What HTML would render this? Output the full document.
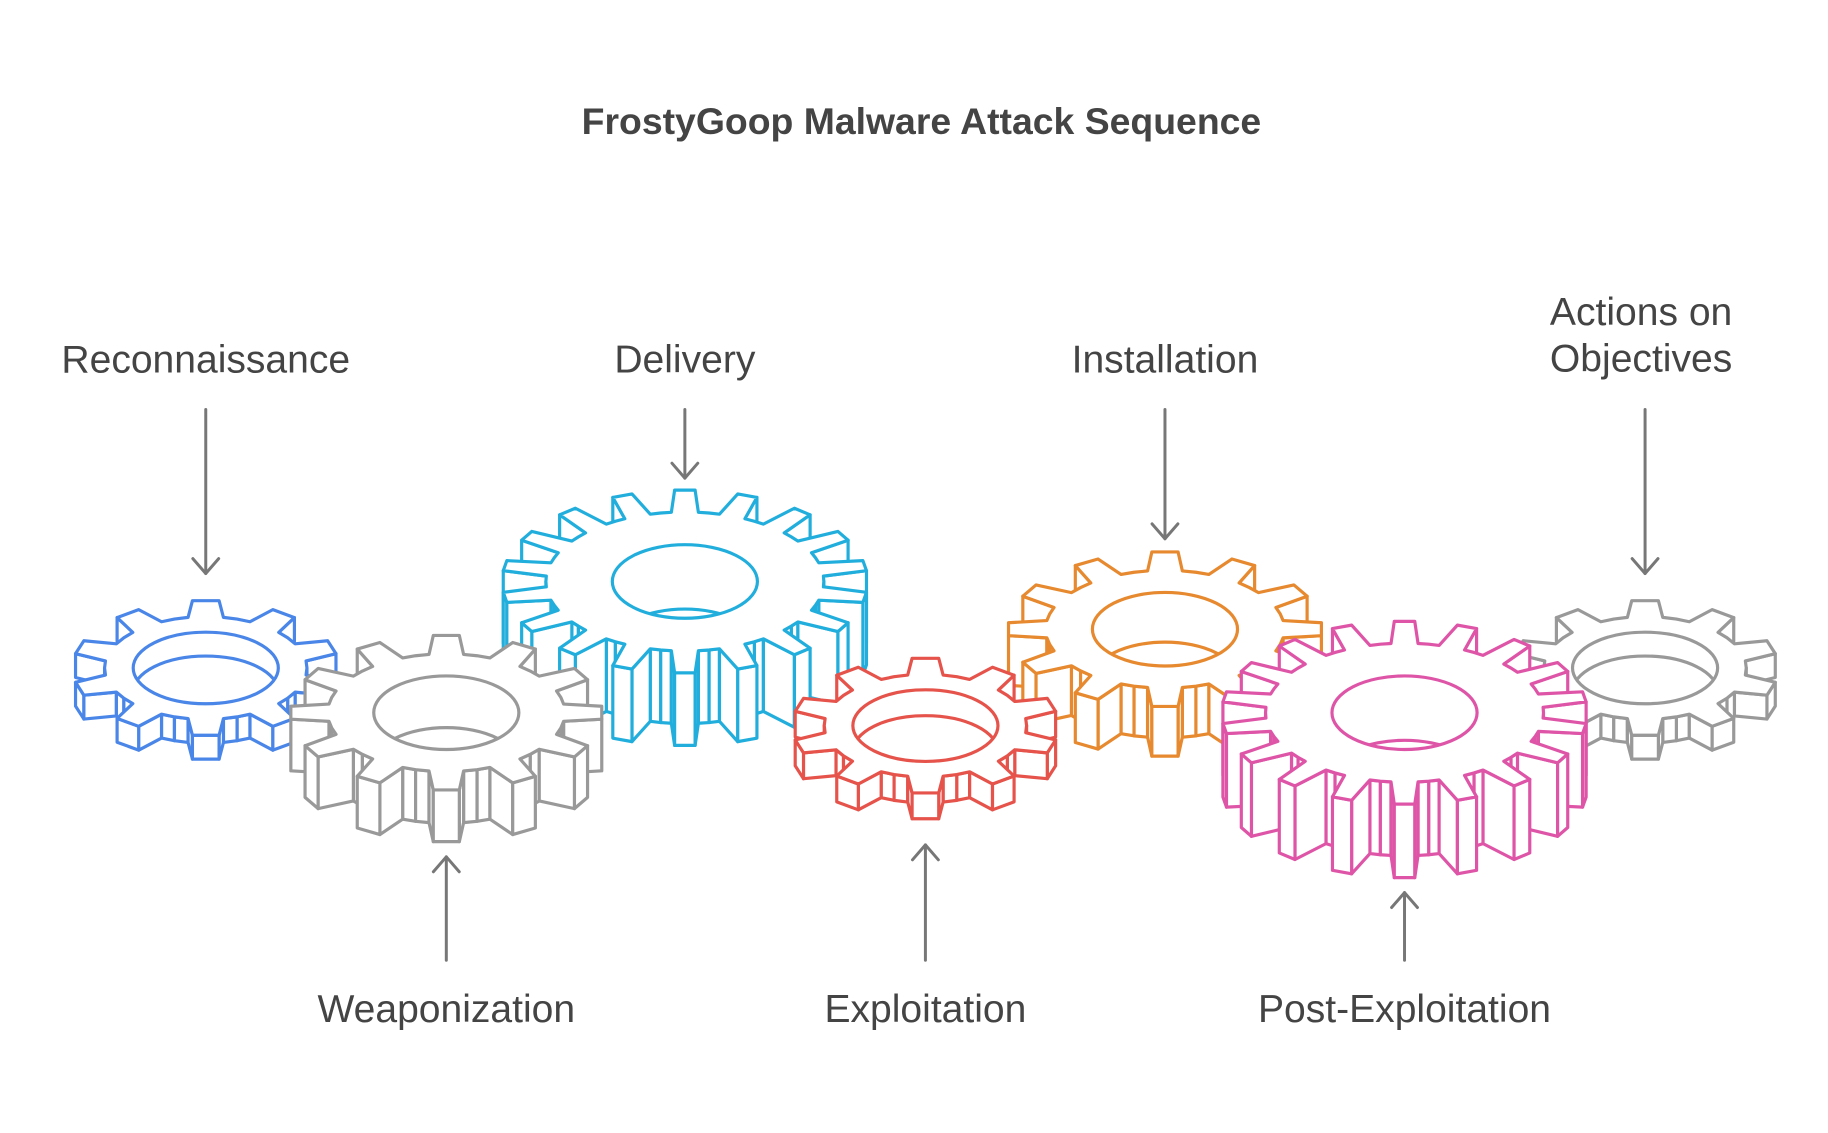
<!DOCTYPE html>
<html><head><meta charset="utf-8">
<style>
html,body{margin:0;padding:0;background:#fff;}
#w{position:relative;width:1828px;height:1133px;overflow:hidden;background:#fff;}
svg{position:absolute;left:0;top:0;}
text{font-family:"Liberation Sans",Arial,sans-serif;fill:#444;}
</style></head>
<body><div id="w">
<svg id="s" width="1828" height="1133" viewBox="0 0 1828 1133" xmlns="http://www.w3.org/2000/svg">
<defs id="d"></defs>
<g transform="scale(0.994)">
<g id="gears"></g>
<g stroke="#777" stroke-width="3" fill="none" stroke-linecap="round" stroke-linejoin="round">
<line x1="207" y1="412" x2="207" y2="577"/><polyline points="194,562 207,577 220,562"/>
<line x1="689" y1="412" x2="689" y2="481"/><polyline points="676,466 689,481 702,466"/>
<line x1="1172" y1="412" x2="1172" y2="542"/><polyline points="1159,527 1172,542 1185,527"/>
<line x1="1655" y1="412" x2="1655" y2="577"/><polyline points="1642,562 1655,577 1668,562"/>
<line x1="449" y1="966" x2="449" y2="862"/><polyline points="436,877 449,862 462,877"/>
<line x1="931" y1="966" x2="931" y2="850"/><polyline points="918,865 931,850 944,865"/>
<line x1="1413" y1="966" x2="1413" y2="898"/><polyline points="1400,913 1413,898 1426,913"/>
</g>
<text x="927" y="135" font-size="37.6" font-weight="bold" text-anchor="middle">FrostyGoop Malware Attack Sequence</text>
<g font-size="39.3" text-anchor="middle">
<text x="207" y="375">Reconnaissance</text>
<text x="689" y="375">Delivery</text>
<text x="1172" y="375">Installation</text>
<text x="1651" y="327">Actions on</text>
<text x="1651" y="374">Objectives</text>
<text x="449" y="1028">Weaponization</text>
<text x="931" y="1028">Exploitation</text>
<text x="1413" y="1028">Post-Exploitation</text>
</g>
</g>
</svg>
</div>
<script>
(function(){
var NS="http://www.w3.org/2000/svg";
var G=document.getElementById("gears"),D=document.getElementById("d");
function el(n,a,p){var e=document.createElementNS(NS,n);for(var k in a)e.setAttribute(k,a[k]);(p||G).appendChild(e);return e;}
function gear(id,cx,cy,rx,ry,t,N,col,hrx,hry){
  var g=el("g",{stroke:col,"stroke-width":3.2,fill:"#fff","stroke-linejoin":"round"});
  var pts=[],p=2*Math.PI/N,ri=0.76;
  for(var i=0;i<N;i++){
    var a=-Math.PI/2+i*p;
    var b=[[a-0.5*p,ri],[a-0.28*p,ri],[a-0.16*p,1],[a+0.16*p,1],[a+0.28*p,ri]];
    b.forEach(function(q){pts.push([cx+Math.cos(q[0])*q[1]*rx,cy+Math.sin(q[0])*q[1]*ry]);});
  }
  var quads=[];
  for(var i=0;i<pts.length;i++){
    var A=pts[i],B=pts[(i+1)%pts.length];
    var ex=B[0]-A[0];
    var ny=-ex;
    if(ny>0.01){quads.push({y:(A[1]+B[1])/2,p:[A,B,[B[0],B[1]+t],[A[0],A[1]+t]]});}
  }
  quads.sort(function(a,b){return a.y-b.y;});
  quads.forEach(function(q){el("polygon",{points:q.p.map(function(v){return v[0].toFixed(1)+","+v[1].toFixed(1);}).join(" ")},g);});
  el("polygon",{points:pts.map(function(v){return v[0].toFixed(1)+","+v[1].toFixed(1);}).join(" ")},g);
  el("ellipse",{cx:cx,cy:cy,rx:hrx,ry:hry},g);
  var cp=el("clipPath",{id:id},D);
  el("ellipse",{cx:cx,cy:cy,rx:hrx,ry:hry},cp);
  var sh=Math.min(t,1.75*hry);
  el("ellipse",{cx:cx,cy:cy+sh,rx:hrx,ry:hry,fill:"none","clip-path":"url(#"+id+")"},g);
}
gear("c3",689,585,184,92,73,18,"#22aedc",73,37);
gear("c1",207,672,134,68,24,10,"#4a86e8",73,36);
gear("c2",449,717,157,78,52,12,"#999999",73,37);
gear("c5",1172,633,158,78,50,12,"#e6892f",73,37);
gear("c7",1655,672,134,68,24,10,"#999999",73,36);
gear("c4",931,730,134,68,26,10,"#e5534b",73,36);
gear("c6",1413,717,184,92,74,18,"#de55a8",73,37);
})();
</script>
</body></html>
